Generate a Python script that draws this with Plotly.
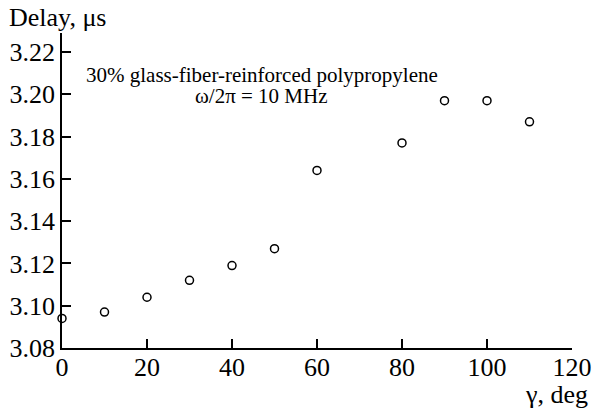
import plotly.graph_objects as go

# Angle gamma (deg) and measured delay (microseconds)
gamma_deg = [0, 10, 20, 30, 40, 50, 60, 80, 90, 100, 110]
delay_us = [3.094, 3.097, 3.104, 3.112, 3.119, 3.127, 3.164, 3.177, 3.197, 3.197, 3.187]

x_ticks = [0, 20, 40, 60, 80, 100, 120]
y_ticks = [3.08, 3.10, 3.12, 3.14, 3.16, 3.18, 3.20, 3.22]
y_tick_text = ["3.08", "3.10", "3.12", "3.14", "3.16", "3.18", "3.20", "3.22"]

FONT = "'Liberation Serif', 'Times New Roman', Times, serif"

fig = go.Figure(
    go.Scatter(
        x=gamma_deg,
        y=delay_us,
        mode="markers",
        marker=dict(symbol="circle-open", size=8, color="black",
                    line=dict(width=1.5, color="black")),
        showlegend=False,
        cliponaxis=False,
    )
)

axis_common = dict(
    showgrid=False, zeroline=False, showline=True, linecolor="black",
    linewidth=1.5, ticks="inside", ticklen=9, tickwidth=1.5, tickcolor="black",
    tickfont=dict(family=FONT, size=26, color="black"), automargin=False,
    ticklabeloverflow="allow",
)

fig.update_xaxes(range=[0, 120], tickvals=x_ticks, ticklabelstandoff=-5,
                 **axis_common)
fig.update_yaxes(range=[3.08, 3.229], tickvals=y_ticks, ticktext=y_tick_text,
                 **axis_common)

fig.update_layout(
    template="none",
    width=592, height=408,
    margin=dict(l=62, r=20, t=33, b=60),
    paper_bgcolor="white", plot_bgcolor="white",
    font=dict(family=FONT, color="black"),
    annotations=[
        dict(text="Delay, μs", xref="paper", yref="paper", x=-0.108, y=1.048,
             xanchor="left", yanchor="middle", showarrow=False,
             font=dict(family=FONT, size=26, color="black")),
        dict(text="γ, deg", xref="paper", yref="paper", x=1.035, y=-0.148,
             xanchor="right", yanchor="middle", showarrow=False,
             font=dict(family=FONT, size=26, color="black")),
        dict(text="30% glass-fiber-reinforced polypropylene", xref="paper",
             yref="paper", x=0.392, y=0.866, xanchor="center", yanchor="middle",
             showarrow=False, font=dict(family=FONT, size=21, color="black")),
        dict(text="ω/2π = 10 MHz", xref="paper", yref="paper", x=0.392,
             y=0.8, xanchor="center", yanchor="middle", showarrow=False,
             font=dict(family=FONT, size=21, color="black")),
    ],
)

fig.write_html("out.html")
